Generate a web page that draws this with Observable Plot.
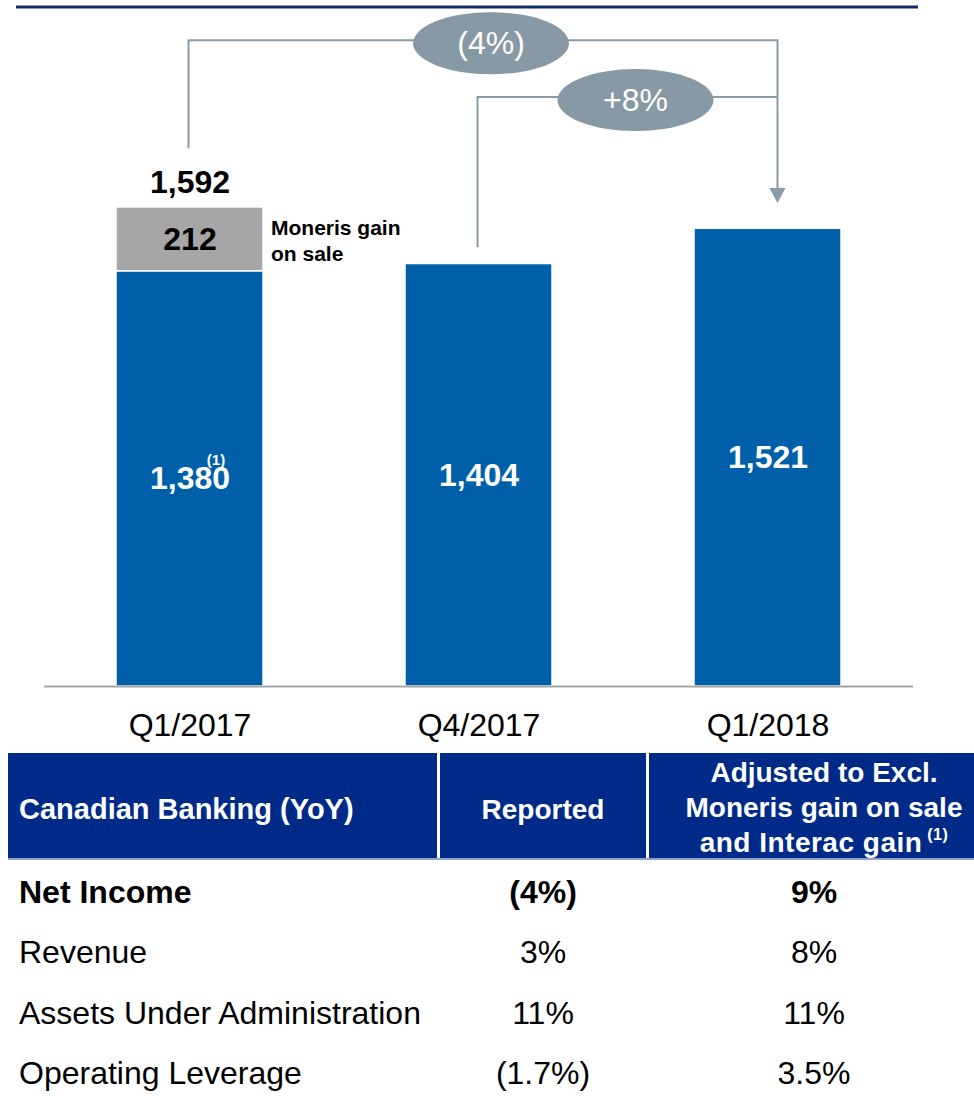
<!DOCTYPE html>
<html>
<head>
<meta charset="utf-8">
<script src="https://cdn.jsdelivr.net/npm/d3@7"></script>
<script src="https://cdn.jsdelivr.net/npm/@observablehq/plot@0.6"></script>
<style>
  html, body { margin: 0; padding: 0; background: #fff; }
  body { width: 974px; font-family: Arial, "Liberation Sans", sans-serif; }
  #chart svg { display: block; }
  #table { position: relative; width: 974px; height: 344px; overflow: hidden; color: #000; }
  .hcell { position: absolute; top: 1px; height: 105px; background: #002a87; color: #fff;
           font-weight: bold; font-size: 28px; display: flex; align-items: center; box-sizing: border-box; padding-top: 7px; }
  .hcell.left { padding-left: 11px; font-size: 29px; }
  .hcell.center { justify-content: center; text-align: center; line-height: 35px; }
  .hcell sup { font-size: 16px; vertical-align: 0; position: relative; top: -12px; }
  .hcell .wide { letter-spacing: 0.5px; }
  .hline { position: absolute; top: 106px; left: 8px; width: 966px; height: 2px; background: #8fa3c8; }
  .cell { position: absolute; height: 60px; line-height: 60px; font-size: 32px; white-space: nowrap; }
  .cell.bold { font-weight: bold; }
</style>
</head>
<body>
<div id="chart"></div>
<div id="table"></div>
<script>
// ---- Chart data ----
const quarters = ["Q1/2017", "Q4/2017", "Q1/2018"];
const baseValues = [1380, 1404, 1521];
const gainValues = [212, 0, 0];
const gainNote = "Moneris gain\non sale";
const footnoteQuarter = "Q1/2017";
const changes = [
  { from: "Q1/2017", to: "Q1/2018", label: "(4%)", level: 2146, start: 1787 },
  { from: "Q4/2017", to: "Q1/2018", label: "+8%", level: 1957, start: 1458 }
];
const arrowTipValue = 1605;

// ---- Table data ----
const tableHeaders = ["Canadian Banking (YoY)", "Reported", "Adjusted to Excl.|Moneris gain on sale|and Interac gain"];
const metrics = ["Net Income", "Revenue", "Assets Under Administration", "Operating Leverage"];
const reported = ["(4%)", "3%", "11%", "(1.7%)"];
const adjusted = ["9%", "8%", "11%", "3.5%"];

const parts = ["base", "gain"];
const partColors = ["#005fa9", "#a6a6a6"];
const fmt = d3.format(",");

const rows = [];
quarters.forEach((q, i) => rows.push({ quarter: q, part: "base", value: baseValues[i] }));
quarters.forEach((q, i) => { if (gainValues[i] > 0) rows.push({ quarter: q, part: "gain", value: gainValues[i] }); });
const baseRows = quarters.map((q, i) => ({ quarter: q, value: baseValues[i] }));
const gainRows = quarters.map((q, i) => ({ quarter: q, base: baseValues[i], gain: gainValues[i] })).filter(d => d.gain > 0);

const chart = Plot.plot({
  width: 974,
  height: 752,
  marginLeft: 44,
  marginRight: 61,
  marginTop: 24,
  marginBottom: 66,
  x: { domain: quarters, paddingInner: 0.493, paddingOuter: 0.2465, label: null },
  y: { domain: [0, 2200], axis: null },
  color: { domain: parts, range: partColors },
  style: { fontFamily: 'Arial, "Liberation Sans", sans-serif', background: "white", color: "black", overflow: "visible" },
  marks: [
    Plot.barY(rows, { x: "quarter", y: "value", fill: "part", stroke: "white", strokeWidth: 1.5 }),
    Plot.ruleY([0], { stroke: "#a6a6a6", strokeWidth: 2 }),
    Plot.axisX({ tickSize: 0, tickPadding: 27, fontSize: 32, fill: "black" }),
    Plot.text(baseRows, { x: "quarter", y: d => d.value / 2, text: d => fmt(d.value), fill: "white", fontSize: 32, fontWeight: "bold" }),
    Plot.text(baseRows.filter(d => d.quarter === footnoteQuarter), { x: "quarter", y: d => d.value / 2, text: () => "(1)", dx: 26, dy: -19, fill: "white", fontSize: 15, fontWeight: "bold" }),
    Plot.text(gainRows, { x: "quarter", y: d => d.base + d.gain / 2, text: d => fmt(d.gain), fill: "black", fontSize: 32, fontWeight: "bold" }),
    Plot.text(gainRows, { x: "quarter", y: d => d.base + d.gain, text: d => fmt(d.base + d.gain), dy: -25, fill: "black", fontSize: 32, fontWeight: "bold" }),
    Plot.text(gainRows, { x: "quarter", y: d => d.base + d.gain / 2, text: () => gainNote, textAnchor: "start", dx: 81, fill: "black", fontSize: 21, fontWeight: "bold", lineHeight: 1.24 })
  ]
});
document.getElementById("chart").appendChild(chart);

// ---- Annotations using the plot's scales ----
const svg = d3.select(chart);
const xs = chart.scale("x"), ys = chart.scale("y");
const center = q => xs.apply(q) + xs.bandwidth / 2;
const lineColor = "#8a9ba8", ellipseColor = "#8799a5";

svg.append("line").attr("x1", 16).attr("x2", 918).attr("y1", 7).attr("y2", 7)
  .attr("stroke", "#0f2c64").attr("stroke-width", 3);

const ann = svg.append("g");
const arrowTipY = ys.apply(arrowTipValue);
changes.forEach((c, i) => {
  const x1 = center(c.from) - 1;
  const x2 = center(c.to) + 10;
  const yl = ys.apply(c.level);
  let d = `M${x1},${ys.apply(c.start)}V${yl}H${x2}`;
  if (i === 0) d += `V${arrowTipY - 15}`;
  ann.append("path").attr("d", d).attr("fill", "none").attr("stroke", lineColor).attr("stroke-width", 2);
  if (i === 0) {
    ann.append("path").attr("d", `M${x2 - 8},${arrowTipY - 15}L${x2 + 8},${arrowTipY - 15}L${x2},${arrowTipY}Z`).attr("fill", lineColor);
  }
  const cx = (x1 + x2) / 2 + 8, cy = yl + 3;
  ann.append("ellipse").attr("cx", cx).attr("cy", cy).attr("rx", 78).attr("ry", 31).attr("fill", ellipseColor);
  ann.append("text").attr("x", cx).attr("y", cy).attr("text-anchor", "middle").attr("dy", "0.35em")
    .attr("fill", "white").attr("font-size", 32).text(c.label);
});

// ---- Table ----
const table = d3.select("#table");
const hcols = [
  { left: 8, width: 429, cls: "left" },
  { left: 440, width: 206, cls: "center" },
  { left: 649, width: 350, cls: "center" }
];
tableHeaders.forEach((h, i) => {
  const c = table.append("div").attr("class", "hcell " + hcols[i].cls)
    .style("left", hcols[i].left + "px").style("width", hcols[i].width + "px");
  const lines = h.split("|");
  if (lines.length === 1) c.text(h);
  else {
    const inner = c.append("div");
    lines.forEach((l, j) => {
      const ld = inner.append("div").text(l);
      if (j === lines.length - 1) { ld.attr("class", "wide"); ld.append("sup").text(" (1)"); }
    });
  }
});
table.append("div").attr("class", "hline");

const rowTop = 110, rowStep = 60.4;
metrics.forEach((m, i) => {
  const bold = i === 0 ? " bold" : "";
  const top = rowTop + i * rowStep;
  table.append("div").attr("class", "cell" + bold).style("top", top + "px").style("left", "19px").text(m);
  table.append("div").attr("class", "cell" + bold).style("top", top + "px").style("left", "443px").style("width", "200px").style("text-align", "center").text(reported[i]);
  table.append("div").attr("class", "cell" + bold).style("top", top + "px").style("left", "714px").style("width", "200px").style("text-align", "center").text(adjusted[i]);
});
</script>
</body>
</html>
